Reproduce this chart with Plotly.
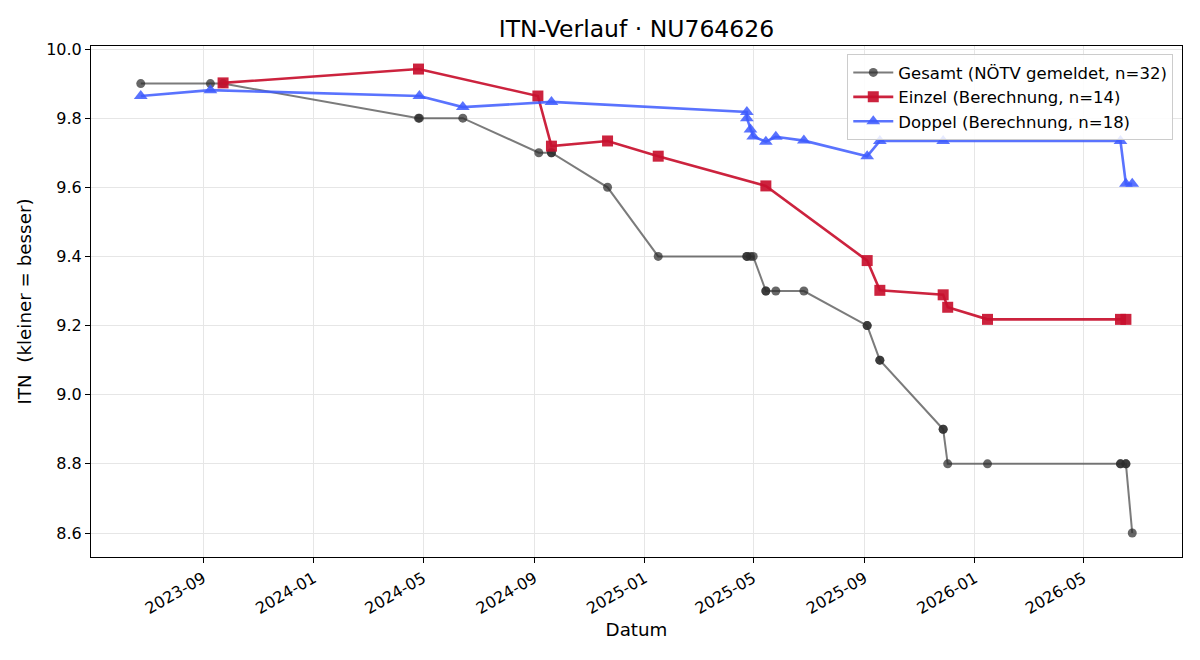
import plotly.graph_objects as go

# Gesamt (NÖTV gemeldet)
gesamt_dates = ["2023-06-24", "2023-09-09", "2023-09-23", "2024-04-26", "2024-04-27",
                "2024-06-14", "2024-09-06", "2024-09-20", "2024-09-20", "2024-11-21",
                "2025-01-16", "2025-04-24", "2025-04-24", "2025-04-28", "2025-05-01",
                "2025-05-15", "2025-05-15", "2025-05-26", "2025-06-26", "2025-09-04",
                "2025-09-04", "2025-09-18", "2025-09-18", "2025-11-27", "2025-11-27",
                "2025-12-02", "2026-01-15", "2026-06-11", "2026-06-11", "2026-06-17",
                "2026-06-17", "2026-06-24"]
gesamt_vals = [9.9, 9.9, 9.9, 9.8, 9.8,
               9.8, 9.7, 9.7, 9.7, 9.6,
               9.4, 9.4, 9.4, 9.4, 9.4,
               9.3, 9.3, 9.3, 9.3, 9.2,
               9.2, 9.1, 9.1, 8.9, 8.9,
               8.8, 8.8, 8.8, 8.8, 8.8,
               8.8, 8.6]

# Einzel (Berechnung)
einzel_dates = ["2023-09-23", "2024-04-26", "2024-09-05", "2024-09-20", "2024-11-21",
                "2025-01-16", "2025-05-15", "2025-09-04", "2025-09-18", "2025-11-27",
                "2025-12-02", "2026-01-15", "2026-06-11", "2026-06-17"]
einzel_vals = [9.902, 9.942, 9.864, 9.719, 9.734,
               9.690, 9.604, 9.388, 9.302, 9.289,
               9.253, 9.218, 9.218, 9.218]

# Doppel (Berechnung)
doppel_dates = ["2023-06-24", "2023-09-09", "2024-04-27", "2024-06-14", "2024-09-20",
                "2025-04-24", "2025-04-24", "2025-04-28", "2025-05-01", "2025-05-15",
                "2025-05-26", "2025-06-26", "2025-09-04", "2025-09-18", "2025-11-27",
                "2026-06-11", "2026-06-17", "2026-06-24"]
doppel_vals = [9.864, 9.881, 9.864, 9.832, 9.847,
               9.818, 9.800, 9.767, 9.747, 9.732,
               9.746, 9.735, 9.690, 9.734, 9.734,
               9.734, 9.610, 9.610]

x_ticks = ["2023-09-01", "2024-01-01", "2024-05-01", "2024-09-01", "2025-01-01",
           "2025-05-01", "2025-09-01", "2026-01-01", "2026-05-01"]
y_ticks = [8.6, 8.8, 9.0, 9.2, 9.4, 9.6, 9.8, 10.0]

fig = go.Figure()
fig.add_trace(go.Scatter(
    x=gesamt_dates, y=gesamt_vals, mode="lines+markers",
    name="Gesamt (NÖTV gemeldet, n=32)",
    line=dict(color="rgba(60,60,60,0.68)", width=2),
    marker=dict(symbol="circle", size=9, color="rgba(45,45,45,0.72)"),
))
fig.add_trace(go.Scatter(
    x=einzel_dates, y=einzel_vals, mode="lines+markers",
    name="Einzel (Berechnung, n=14)",
    line=dict(color="rgba(200,16,46,0.92)", width=2.6),
    marker=dict(symbol="square", size=11, color="rgba(200,16,46,0.92)"),
))
fig.add_trace(go.Scatter(
    x=doppel_dates, y=doppel_vals, mode="lines+markers",
    name="Doppel (Berechnung, n=18)",
    line=dict(color="rgba(61,90,254,0.85)", width=2.6),
    marker=dict(symbol="triangle-up", size=12, color="rgba(61,90,254,0.85)"),
))

fig.update_layout(
    width=1200, height=660,
    margin=dict(l=91, r=18, t=46, b=103),
    paper_bgcolor="white", plot_bgcolor="white",
    font=dict(family="DejaVu Sans", size=16, color="black"),
    title=dict(text="ITN-Verlauf · NU764626", x=0.5, xref="paper", xanchor="center",
               y=0.957, yanchor="middle", font=dict(size=23.5)),
    showlegend=True,
    legend=dict(x=0.992, y=0.984, xanchor="right", yanchor="top",
                bgcolor="rgba(255,255,255,0.85)", bordercolor="#cccccc", borderwidth=1,
                font=dict(size=16.5), itemwidth=40, tracegroupgap=0),
)
fig.update_xaxes(
    type="date", range=["2023-04-30", "2026-08-18"],
    tickvals=x_ticks, tickformat="%Y-%m", tickangle=-30,
    ticks="outside", ticklen=5, tickcolor="black", tickfont=dict(size=16),
    showgrid=True, gridcolor="#e6e6e6", gridwidth=1,
    showline=True, linecolor="black", linewidth=1, mirror=True,
    title=dict(text="Datum", font=dict(size=18.3), standoff=6), zeroline=False,
)
fig.update_yaxes(
    range=[8.5306, 10.0087], tickvals=y_ticks, tickformat=".1f",
    ticks="outside", ticklen=5, tickcolor="black", tickfont=dict(size=16),
    showgrid=True, gridcolor="#e6e6e6", gridwidth=1,
    showline=True, linecolor="black", linewidth=1, mirror=True,
    title=dict(text="ITN  (kleiner = besser)", font=dict(size=18.3), standoff=9),
    zeroline=False,
)

fig.write_html("out.html")
